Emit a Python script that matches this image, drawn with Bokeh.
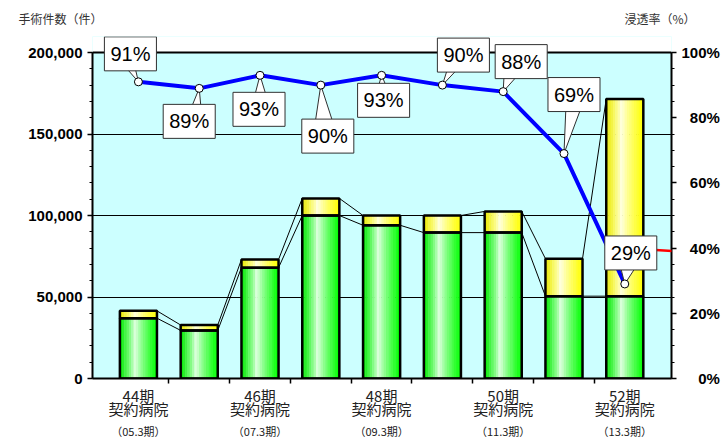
import numpy as np
from bokeh.plotting import figure
from bokeh.models import (Range1d, LinearAxis, FixedTicker, Label, Arrow, ColumnDataSource,
                          NumeralTickFormatter, BoxAnnotation, Span, Title)
from bokeh.embed import file_html
from bokeh.resources import INLINE

# ---------------- data ----------------
categories = ["44期", "45期", "46期", "47期", "48期", "49期", "50期", "51期", "52期"]
label_periods = ["44期", "46期", "48期", "50期", "52期"]
label_mid = "契約病院"
label_sub = ["（05.3期）", "（07.3期）", "（09.3期）", "（11.3期）", "（13.3期）"]
contract_count = [37000, 29500, 68000, 100000, 94000, 89500, 89500, 50500, 50500]
other_count = [4500, 3300, 5000, 10500, 6000, 10500, 13000, 23000, 121000]
penetration = [91, 89, 93, 90, 93, 90, 88, 69, 29]
left_ticks = [0, 50000, 100000, 150000, 200000]
right_ticks = [0, 20, 40, 60, 80, 100]
left_title = "手術件数（件）"
right_title = "浸透率（%）"

# ---------------- layout ----------------
W, H = 722, 442
FL, FR, FTOP, PT, FB = 92, 672, 36, 52, 378
X0 = (FL - 138) / 60.9
X1 = (FR - 138) / 60.9
XPX = (FR - FL) / (X1 - X0)
YMAX = 200000
YTOP = YMAX * (FB - FTOP) / (FB - PT)
PTOP = 100 * (FB - FTOP) / (FB - PT)

def xdata(cx):
    return X0 + (cx - FL) / XPX

def ypct(cy):
    return (FB - cy) / (FB - PT) * 100

n = len(categories)
idx = np.arange(n)
green = np.array(contract_count, dtype=float)
total = green + np.array(other_count, dtype=float)
pct = np.array(penetration, dtype=float)

p = figure(width=W, height=H, x_range=Range1d(X0, X1), y_range=Range1d(0, YTOP),
           output_backend="svg", toolbar_location=None,
           min_border_left=FL, min_border_right=W - FR, min_border_top=FTOP, min_border_bottom=H - FB,
           background_fill_color="#CCFFFF", border_fill_color="white",
           outline_line_color=None)
p.extra_y_ranges = {"pct": Range1d(0, PTOP)}

# white strip above the plot area (frame extends up so callouts are not clipped)
p.add_layout(BoxAnnotation(bottom=YMAX, fill_color="white", fill_alpha=1.0, line_color=None, level="underlay"))

# titles (one text line holding both axis titles)
p.add_layout(Title(text=left_title + "\u3000" * 44 + right_title, align="left", offset=18 - FL,
                   vertical_align="top", standoff=16,
                   text_font="Noto Sans CJK JP", text_font_size="12px", text_font_style="normal",
                   text_color="#333333"), "above")

# grid
p.xgrid.visible = False
p.ygrid.ticker = FixedTicker(ticks=left_ticks)
p.ygrid.grid_line_color = "black"
p.ygrid.grid_line_width = 1

# left axis
ya = p.yaxis[0]
ya.ticker = FixedTicker(ticks=left_ticks, minor_ticks=list(range(0, 200001, 10000)))
ya.bounds = (0, YMAX)
ya.formatter = NumeralTickFormatter(format="0,0")
ya.major_label_text_font = "Liberation Sans"
ya.major_label_text_font_style = "bold"
ya.major_label_text_font_size = "15px"
ya.major_label_text_color = "black"
ya.major_label_standoff = 5
ya.axis_line_width = 2
ya.major_tick_out = 5
ya.major_tick_in = 0
ya.minor_tick_out = 3
ya.minor_tick_in = 0
ya.major_tick_line_width = 1.5

# right axis
fs = "\u2007"
ra = LinearAxis(y_range_name="pct", bounds=(0, 100),
                ticker=FixedTicker(ticks=right_ticks, minor_ticks=list(range(0, 101, 5))))
ra.major_label_overrides = {t: fs * (3 - len(str(t))) + f"{t}%" for t in right_ticks}
ra.major_label_text_font = "Liberation Sans"
ra.major_label_text_font_style = "bold"
ra.major_label_text_font_size = "15px"
ra.major_label_text_color = "black"
ra.major_label_standoff = 5
ra.axis_line_width = 2
ra.major_tick_out = 5
ra.major_tick_in = 0
ra.minor_tick_out = 3
ra.minor_tick_in = 0
ra.major_tick_line_width = 1.5
p.add_layout(ra, "right")

# bottom axes: tick marks between bars + two-line labels, then the period row
label_pos = [2 * j for j in range(len(label_periods))]
xa = p.xaxis[0]
xa.ticker = FixedTicker(ticks=label_pos, minor_ticks=[i + 0.5 for i in range(n - 1)])
xa.major_label_overrides = {x: f"{a}\n{label_mid}" for x, a in zip(label_pos, label_periods)}
xa.major_label_text_font = "Noto Sans CJK JP"
xa.major_label_text_font_size = "15px"
xa.major_label_text_color = "#222222"
xa.major_label_text_line_height = 0.62
xa.major_label_standoff = 1
xa.axis_line_width = 2
xa.major_tick_out = 5
xa.major_tick_in = 0
xa.major_tick_line_color = None
xa.minor_tick_out = 5
xa.minor_tick_in = 0
xa.minor_tick_line_width = 1.5

xb = LinearAxis(ticker=FixedTicker(ticks=label_pos))
xb.major_label_overrides = {x: t for x, t in zip(label_pos, label_sub)}
xb.major_label_text_font = "Noto Sans CJK JP"
xb.major_label_text_font_size = "11px"
xb.major_label_text_color = "#222222"
xb.major_label_standoff = 1
xb.axis_line_color = None
xb.major_tick_line_color = None
xb.minor_tick_line_color = None
xb.major_tick_out = 0
xb.major_tick_in = 0
xb.minor_tick_out = 0
xb.minor_tick_in = 0
p.add_layout(xb, "below")

# top border of the plot area
p.add_layout(Span(location=YMAX, dimension="width", line_color="black", line_width=2))

# series lines between bar tops
BW = 0.61
for tops in (green, total):
    p.segment(x0=idx[:-1] + BW / 2, y0=tops[:-1], x1=idx[1:] - BW / 2, y1=tops[1:],
              line_color="black", line_width=1)

# gradient bars built of stripes
NS = 16
def shade(base, t):
    h = 0.42
    d = (h - t) / h if t < h else (t - h) / (1 - h)
    wmix = 0.92 * (1 - min(1.0, d ** 0.75))
    r, g, b = base
    if t < h:
        r, g, b = [c * (0.9 + 0.1 * (t / h)) for c in base]
    return "#%02x%02x%02x" % tuple(int(round(c + (255 - c) * wmix)) for c in (r, g, b))

def stripes(bottoms, tops, base):
    xs, ws, bs, ts, cs = [], [], [], [], []
    for i in range(n):
        for k in range(NS):
            t = (k + 0.5) / NS
            xs.append(i - BW / 2 + t * BW)
            ws.append(BW / NS * 1.2)
            bs.append(bottoms[i])
            ts.append(tops[i])
            cs.append(shade(base, t))
    return ColumnDataSource(dict(x=xs, w=ws, b=bs, t=ts, c=cs))

p.vbar(x="x", width="w", bottom="b", top="t", fill_color="c", line_color=None,
       source=stripes(np.zeros(n), green, (0, 255, 0)))
p.vbar(x="x", width="w", bottom="b", top="t", fill_color="c", line_color=None,
       source=stripes(green, total, (255, 255, 0)))
p.vbar(x=idx, width=BW, bottom=0, top=green, fill_color=None, line_color="black", line_width=2.5)
p.vbar(x=idx, width=BW, bottom=green, top=total, fill_color=None, line_color="black", line_width=2.5)

# penetration line
p.line(x=idx, y=pct, y_range_name="pct", line_color="#0000FF", line_width=4)

# callouts: box offset (px, screen down positive) and pointer base (px from point)
box_off = [(-8, -28), (-10, 33), (-1, 34), (7, 51), (2, 25), (21, -30), (18, -30), (10, -59), (6, -31)]
base_off = [(-15, -4), (-9, 2), (-6, 7), (-6, 13), (-4, 6), (6, 18), (1, 17), (2, 18), (-5, 13)]
wx, wy = [], []
for i in range(n):
    px = FL + (i - X0) * XPX
    py = FB - pct[i] / 100 * (FB - PT)
    ox, oy = box_off[i]
    by = py + oy + (-11 if oy > 0 else 11)
    b0, b1 = base_off[i]
    pts = [(px, py), (px + b0, by), (px + b1, by)]
    wx.append([xdata(a) for a, _ in pts])
    wy.append([ypct(c) for _, c in pts])
p.patches(xs=wx, ys=wy, y_range_name="pct", fill_color="white", line_color="#303030", line_width=1)

p.scatter(x=idx, y=pct, y_range_name="pct", marker="circle", size=8,
          fill_color="white", line_color="black", line_width=1)

# red stray line leaving the last callout
p.add_layout(Arrow(end=None, x_start=xdata(648), y_start=ypct(249), x_end=xdata(724), y_end=ypct(253.5),
                   y_range_name="pct", line_color="#FF0000", line_width=2.5))

for i in range(n):
    ox, oy = box_off[i]
    p.add_layout(Label(x=i, y=pct[i], y_range_name="pct", x_offset=ox, y_offset=-oy,
                       text=f"{int(pct[i])}%", text_align="center", text_baseline="middle",
                       text_font="Liberation Sans", text_font_size="20px", text_color="black",
                       background_fill_color="white", border_line_color="#303030",
                       border_line_width=1, padding=6))

open("out.html", "w").write(file_html(p, INLINE))
